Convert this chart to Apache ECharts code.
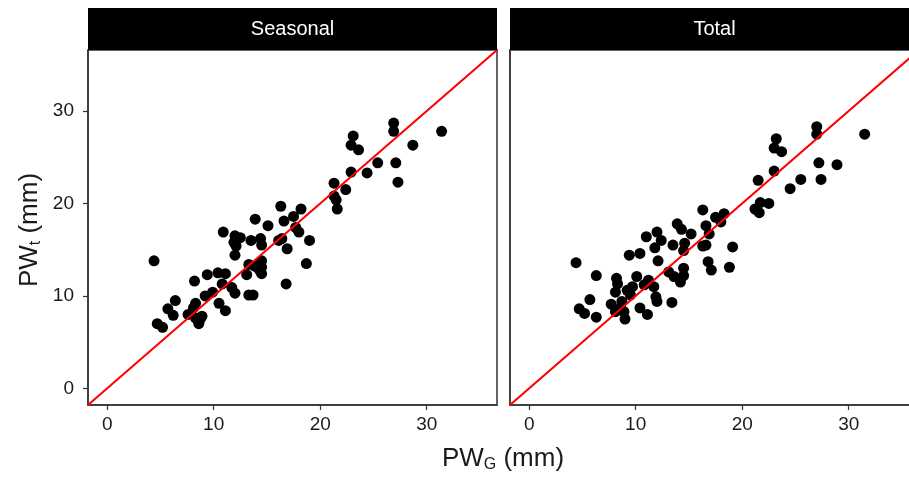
<!DOCTYPE html>
<html>
<head>
<meta charset="utf-8">
<script src="https://cdn.jsdelivr.net/npm/echarts@6/dist/echarts.min.js"></script>
<style>
  html, body { margin: 0; padding: 0; background: #fff; }
  #chart { width: 909px; height: 477px; }
</style>
</head>
<body>
<div id="chart"></div>
<script>
// panel titles
const panels = ['Seasonal', 'Total'];

// PW_G vs PW_t (mm), Seasonal panel
const seasonalPts = [
  [4.4, 13.8], [4.7, 7.0], [5.2, 6.6], [5.7, 8.6], [6.2, 7.9], [6.4, 9.5], [7.6, 8.0],
  [8.1, 8.7], [8.3, 9.2], [8.3, 7.6], [8.6, 7.0], [8.9, 7.8], [8.7, 7.4], [8.2, 11.6],
  [9.4, 12.3], [9.2, 10.0], [9.9, 10.4], [10.4, 12.5], [10.5, 9.2], [11.1, 8.4], [11.1, 12.4],
  [10.8, 11.3], [11.7, 10.9], [12.0, 10.3], [10.9, 16.9], [12.0, 16.5], [12.5, 16.3],
  [11.9, 15.8], [12.1, 15.4], [12.0, 14.4], [13.1, 12.3], [13.3, 13.4], [13.3, 10.1],
  [13.7, 10.1], [13.5, 16.0], [13.9, 18.3], [14.4, 16.2], [14.5, 15.5], [13.9, 13.2],
  [14.3, 12.8], [14.5, 12.4], [14.5, 13.8], [14.5, 13.1], [15.1, 17.6], [16.3, 19.7],
  [16.4, 16.2], [16.1, 16.0], [16.6, 18.1], [16.9, 15.1], [16.8, 11.3], [17.5, 18.6],
  [17.7, 17.4], [18.0, 16.9], [18.2, 19.4], [19.0, 16.0], [18.7, 13.5], [21.3, 22.2],
  [21.3, 20.8], [21.5, 20.4], [21.6, 19.4], [22.4, 21.5], [22.9, 23.4], [22.9, 26.3],
  [23.1, 27.3], [23.6, 25.8], [24.4, 23.3], [25.4, 24.4], [26.9, 28.7], [26.9, 27.8],
  [27.1, 24.4], [27.3, 22.3], [28.7, 26.3], [31.4, 27.8]
];

// Total panel
const totalPts = [
  [4.4, 13.6], [6.3, 12.2], [4.7, 8.6], [5.2, 8.1], [5.7, 9.6], [6.3, 7.7], [7.7, 9.1],
  [8.2, 11.9], [8.3, 11.3], [8.1, 10.4], [8.1, 8.3], [8.6, 8.7], [8.9, 8.3], [9.0, 7.5],
  [8.7, 9.4], [9.2, 10.6], [9.7, 11.0], [9.5, 10.1], [9.4, 14.4], [10.4, 14.6], [10.1, 12.1],
  [10.4, 8.7], [11.1, 8.0], [10.8, 11.2], [11.2, 11.7], [11.7, 11.0], [11.9, 9.9], [12.0, 9.4],
  [11.0, 16.4], [12.0, 16.9], [12.4, 16.0], [11.8, 15.2], [12.1, 13.8], [13.4, 9.3],
  [13.1, 12.6], [13.6, 12.1], [14.2, 11.5], [14.5, 13.0], [14.5, 12.2], [13.5, 15.5],
  [13.9, 17.8], [14.3, 17.2], [14.6, 15.7], [14.5, 14.9], [15.2, 16.7], [16.3, 19.3],
  [16.6, 17.6], [16.3, 15.4], [17.5, 18.5], [18.3, 18.9], [18.0, 18.0], [16.9, 16.7],
  [16.6, 15.5], [19.1, 15.3], [16.8, 13.7], [17.1, 12.8], [18.8, 13.1], [21.5, 22.5],
  [21.2, 19.4], [21.7, 20.1], [21.6, 19.0], [22.5, 20.0], [23.0, 23.5], [23.2, 27.0],
  [23.0, 26.0], [23.7, 25.6], [24.5, 21.6], [25.5, 22.6], [27.0, 28.3], [27.0, 27.5],
  [27.2, 24.4], [27.4, 22.6], [28.9, 24.2], [31.5, 27.5]
];

// 1:1 reference line
const oneToOne = [[-5, -5], [40, 40]];

const xTicks = [0, 10, 20, 30];
const yTicks = [0, 10, 20, 30];
const axisMin = -1.8, axisMax = 36.6;

const FONT = '"Liberation Sans", Arial, sans-serif';
const INK = '#1a1a1a';

const chart = echarts.init(document.getElementById('chart'), null, { renderer: 'canvas' });

// the right panel runs past the edge of the picture, as in the original
const grids = [
  { left: 88, top: 50, width: 409, height: 355 },
  { left: 510, top: 50, width: 409, height: 355 }
].map(g => Object.assign(g, {
  show: true, borderColor: '#333', borderWidth: 1.5, backgroundColor: '#fff',
  outerBoundsMode: 'none', containLabel: false
}));

function xAxisFor(i) {
  return {
    gridIndex: i, type: 'value', min: axisMin, max: axisMax,
    splitLine: { show: false },
    axisLine: { show: true, onZero: false, lineStyle: { color: '#333', width: 1.5 } },
    axisTick: { show: true, length: 5, customValues: xTicks, lineStyle: { color: '#333', width: 1.2 } },
    axisLabel: { customValues: xTicks, fontSize: 19, color: INK, fontFamily: FONT, margin: 10 }
  };
}
function yAxisFor(i) {
  const isLeft = i === 0;
  return {
    gridIndex: i, type: 'value', min: axisMin, max: axisMax,
    splitLine: { show: false },
    axisLine: { show: true, onZero: false, lineStyle: { color: '#333', width: 1.5 } },
    axisTick: { show: isLeft, length: 5, customValues: yTicks, lineStyle: { color: '#333', width: 1.2 } },
    axisLabel: { show: isLeft, customValues: yTicks, fontSize: 19, color: INK, fontFamily: FONT, margin: 14 }
  };
}

const series = [];
[seasonalPts, totalPts].forEach((pts, i) => {
  series.push({
    type: 'scatter', xAxisIndex: i, yAxisIndex: i, data: pts,
    symbolSize: 11, itemStyle: { color: '#000', opacity: 1 }, silent: true
  });
  series.push({
    type: 'line', xAxisIndex: i, yAxisIndex: i, data: oneToOne,
    symbol: 'none', clip: true, z: 5,
    lineStyle: { color: '#ff0000', width: 2 }, silent: true
  });
});

const strips = [];
grids.forEach((g, i) => {
  strips.push({
    type: 'rect', shape: { x: g.left, y: 8, width: g.width, height: 42 },
    style: { fill: '#000' }, z: 10
  });
  strips.push({
    type: 'text', x: g.left + g.width / 2, y: 29, z: 11,
    style: { text: panels[i], fill: '#fff', fontSize: 20, fontFamily: FONT, align: 'center', verticalAlign: 'middle' }
  });
});

chart.setOption({
  backgroundColor: '#fff',
  animation: false,
  grid: grids,
  xAxis: [xAxisFor(0), xAxisFor(1)],
  yAxis: [yAxisFor(0), yAxisFor(1)],
  series: series,
  graphic: strips.concat([
    {
      type: 'text', x: 503, y: 459, z: 11,
      style: {
        text: '{a|PW}{b|G}{a| (mm)}', align: 'center', verticalAlign: 'middle',
        rich: {
          a: { fontSize: 26, fontFamily: FONT, fill: INK },
          b: { fontSize: 16, fontFamily: FONT, fill: INK, padding: [12, 0, 0, 0] }
        }
      }
    },
    {
      type: 'text', x: 30, y: 230, rotation: Math.PI / 2, z: 11,
      style: {
        text: '{a|PW}{b|t}{a| (mm)}', align: 'center', verticalAlign: 'middle',
        rich: {
          a: { fontSize: 26, fontFamily: FONT, fill: INK },
          b: { fontSize: 16, fontFamily: FONT, fill: INK, padding: [12, 0, 0, 0] }
        }
      }
    }
  ])
});

window.addEventListener('resize', () => chart.resize());
</script>
</body>
</html>
